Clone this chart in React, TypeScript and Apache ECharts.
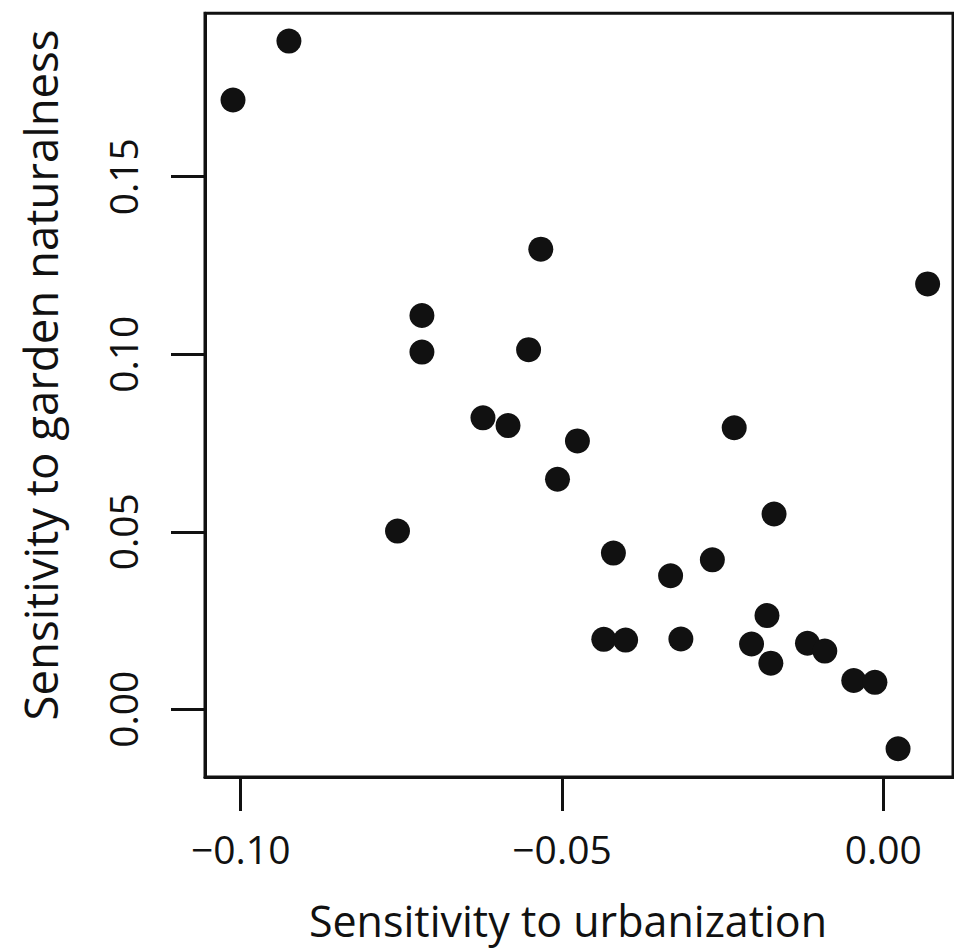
import React, { useEffect, useRef } from "react";
import * as echarts from "echarts";

const urbanization = [
  -0.1012, -0.0925, -0.0756, -0.0718, -0.0718, -0.0623, -0.0584, -0.0552,
  -0.0533, -0.0507, -0.0476, -0.0435, -0.042, -0.0401, -0.0331, -0.0315,
  -0.0266, -0.0232, -0.0205, -0.0181, -0.0175, -0.017, -0.0118, -0.0091,
  -0.0046, -0.0013, 0.0023, 0.0069,
];
const naturalness = [
  0.1716, 0.1882, 0.0502, 0.1109, 0.1006, 0.0821, 0.0799, 0.1013,
  0.1296, 0.0648, 0.0756, 0.0197, 0.044, 0.0195, 0.0376, 0.0198,
  0.0421, 0.0793, 0.0184, 0.0264, 0.013, 0.055, 0.0186, 0.0164,
  0.0081, 0.0076, -0.0111, 0.1198,
];
const xTicks = [-0.1, -0.05, 0];
const yTicks = [0, 0.05, 0.1, 0.15];
const xTitle = "Sensitivity to urbanization";
const yTitle = "Sensitivity to garden naturalness";

export default function App() {
  const ref = useRef<HTMLDivElement>(null);
  useEffect(() => {
    if (!ref.current) return;
    const chart = echarts.init(ref.current, null, { renderer: "svg" });
    const fmt = (v: number) =>
      (v < -1e-9 ? "\u2212" : "") + Math.abs(v).toFixed(2);
    const font = "'Open Sans', 'Noto Sans', sans-serif";
    const ink = "#111";
    chart.setOption({
      animation: false,
      backgroundColor: "#fff",
      grid: {
        left: 205,
        top: 13.3,
        width: 748,
        height: 763.7,
        show: true,
        borderColor: ink,
        borderWidth: 3,
        backgroundColor: "transparent",
      },
      xAxis: {
        type: "value",
        min: -0.10556,
        max: 0.01085,
        splitLine: { show: false },
        axisLine: { show: true, onZero: false, lineStyle: { color: ink, width: 3 } },
        axisTick: {
          show: true,
          customValues: xTicks,
          length: 34,
          lineStyle: { color: ink, width: 3 },
        },
        axisLabel: {
          customValues: xTicks,
          formatter: fmt,
          margin: 52,
          fontSize: 39,
          fontFamily: font,
          color: ink,
        },
      },
      yAxis: {
        type: "value",
        min: -0.01907,
        max: 0.19603,
        splitLine: { show: false },
        axisLine: { show: true, onZero: false, lineStyle: { color: ink, width: 3 } },
        axisTick: {
          show: true,
          customValues: yTicks,
          length: 34,
          lineStyle: { color: ink, width: 3 },
        },
        axisLabel: {
          customValues: yTicks,
          formatter: fmt,
          rotate: 90,
          margin: 63,
          fontSize: 39,
          fontFamily: font,
          color: ink,
        },
      },
      graphic: [
        {
          type: "text",
          x: 568,
          y: 920,
          style: {
            text: xTitle,
            fontSize: 43,
            fontFamily: font,
            fill: ink,
            align: "center",
            verticalAlign: "middle",
          },
        },
        {
          type: "text",
          x: 40,
          y: 375,
          rotation: Math.PI / 2,
          style: {
            text: yTitle,
            fontSize: 45.5,
            fontFamily: font,
            fill: ink,
            align: "center",
            verticalAlign: "middle",
          },
        },
      ],
      series: [
        {
          type: "scatter",
          symbol: "circle",
          symbolSize: 25,
          itemStyle: { color: ink, opacity: 1 },
          data: urbanization.map((x, i) => [x, naturalness[i]]),
        },
      ],
    });
    return () => chart.dispose();
  }, []);
  return (
    <div
      ref={ref}
      style={{ position: "fixed", left: 0, top: 0, width: 954, height: 949 }}
    />
  );
}
